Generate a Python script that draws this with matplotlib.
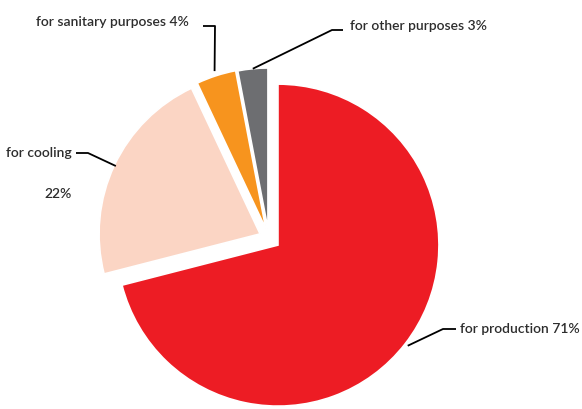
import numpy as np
import matplotlib
matplotlib.use("Agg")
import matplotlib.pyplot as plt

labels = ["for production 71%", "for cooling", "for sanitary purposes 4%", "for other purposes 3%"]
values = [71, 22, 4, 3]
colors = ["#ED1C24", "#FBD5C4", "#F7941E", "#6D6E71"]
explode = [0.072, 0.06, 0.06, 0.056]

W, H = 582, 409
R_PX = 161.0
CX, CY = 268.8, 238.0  # pie centre in image pixels (from top-left)

fig = plt.figure(figsize=(W / 100, H / 100), dpi=100)
ax = fig.add_axes([0, 0, 1, 1])
ax.set_aspect("equal")
ax.axis("off")

wedges, _ = ax.pie(values, colors=colors, explode=explode, startangle=90,
                   counterclock=False, radius=1.0,
                   wedgeprops=dict(edgecolor="white", linewidth=1.2))
ax.set_xlim(-CX / R_PX, (W - CX) / R_PX)
ax.set_ylim(-(H - CY) / R_PX, CY / R_PX)


def px(x, y):
    return ((x - CX) / R_PX, (CY - y) / R_PX)


def anchor(w, r=1.0):
    ang = np.deg2rad((w.theta1 + w.theta2) / 2)
    cx, cy = w.center
    return cx + r * w.r * np.cos(ang), cy + r * w.r * np.sin(ang)


font = dict(family=["Lato", "DejaVu Sans"], fontsize=10, weight="semibold", color="#2d2d2d")
lc = dict(color="black", lw=1.3, solid_capstyle="butt")

# production
a = anchor(wedges[0], 1.02)
p1, p2 = px(443, 329), px(456, 329)
ax.plot([a[0], p1[0], p2[0]], [a[1], p1[1], p2[1]], **lc)
t = px(460, 329)
ax.text(t[0], t[1], labels[0], ha="left", va="center", **font)

# cooling
a = anchor(wedges[1], 0.99)
p1, p2 = px(88, 153), px(76, 153)
ax.plot([a[0], p1[0], p2[0]], [a[1], p1[1], p2[1]], **lc)
t = px(72, 153)
ax.text(t[0], t[1], labels[1], ha="right", va="center", **font)
t = px(58, 194)
ax.text(t[0], t[1], "22%", ha="center", va="center", **font)

# sanitary
a = anchor(wedges[2], 1.03)
p1, p2 = px(215, 26), px(203, 26)
ax.plot([a[0], p1[0], p2[0]], [a[1], p1[1], p2[1]], **lc)
t = px(189, 22)
ax.text(t[0], t[1], labels[2], ha="right", va="center", **font)

# other
a = anchor(wedges[3], 1.0)
p1, p2 = px(332, 30), px(343, 30)
ax.plot([a[0], p1[0], p2[0]], [a[1], p1[1], p2[1]], **lc)
t = px(350, 26)
ax.text(t[0], t[1], labels[3], ha="left", va="center", **font)

fig.savefig("out.png", dpi=100, facecolor="white")
